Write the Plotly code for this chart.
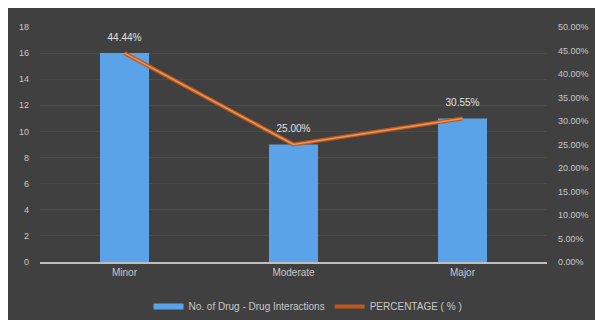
import plotly.graph_objects as go

categories = ["Minor", "Moderate", "Major"]
interactions = [16, 9, 11]
percentages = [44.44, 25.00, 30.55]
pct_labels = ["44.44%", "25.00%", "30.55%"]
left_ticks = [0, 2, 4, 6, 8, 10, 12, 14, 16, 18]
right_ticks = [0, 5, 10, 15, 20, 25, 30, 35, 40, 45, 50]

W, H = 603, 320
ml, mr, mt, mb = 32, 64, 19, 66
pw = W - ml - mr
ph = H - mt - mb
BLUE = "#5BA3E8"

fig = go.Figure()
fig.add_trace(go.Bar(
    x=categories, y=interactions, name="No. of Drug - Drug Interactions",
    marker=dict(color=BLUE, line=dict(width=0)), width=0.29,
    showlegend=False, legendgroup="bars",
))
# legend entry for bars drawn as a wide swatch
fig.add_trace(go.Scatter(
    x=[None], y=[None], mode="lines", name="No. of Drug - Drug Interactions",
    line=dict(color=BLUE, width=6), legendgroup="bars", hoverinfo="skip",
))
fig.add_trace(go.Scatter(
    x=categories, y=percentages, yaxis="y2", mode="lines",
    line=dict(color="#C0581A", width=4), name="PERCENTAGE ( % )",
    legendgroup="pct",
))
fig.add_trace(go.Scatter(
    x=categories, y=percentages, yaxis="y2", mode="lines+markers+text",
    line=dict(color="#E8955A", width=1.5), showlegend=False, legendgroup="pct",
    marker=dict(size=14, color="rgba(0,0,0,0)"),
    text=pct_labels, textposition="top center",
    textfont=dict(color="#E0E0E0", size=10, family="Liberation Sans"),
    hoverinfo="skip",
))

fig.update_layout(
    width=W, height=H,
    margin=dict(l=ml, r=mr, t=mt, b=mb, autoexpand=False),
    paper_bgcolor="#404040", plot_bgcolor="#404040",
    font=dict(family="Liberation Sans", color="#C8C8C8", size=9),
    showlegend=True,
    legend=dict(orientation="h", x=(300 - ml) / pw, xanchor="center",
                y=(H - mb - 284) / ph, yanchor="top",
                font=dict(size=10, color="#C8C8C8"), bgcolor="rgba(0,0,0,0)"),
    xaxis=dict(showgrid=False, tickfont=dict(size=10, color="#C8C8C8"), ticks="",
               showline=True, linecolor="#BFBFBF", linewidth=1.5, automargin=False),
    yaxis=dict(range=[0, 18], tickvals=left_ticks, showgrid=True, gridcolor="#4C4C4C",
               gridwidth=1, zeroline=False, ticks="", tickfont=dict(size=9, color="#C8C8C8"),
               ticklabelstandoff=10, automargin=False),
    yaxis2=dict(range=[0, 50], tickvals=right_ticks,
                ticktext=[f"{v:.2f}%" for v in right_ticks],
                overlaying="y", side="right", showgrid=False, zeroline=False, ticks="",
                tickfont=dict(size=9, color="#C8C8C8"), ticklabelstandoff=10,
                automargin=False),
)

fig.write_html("out.html")
